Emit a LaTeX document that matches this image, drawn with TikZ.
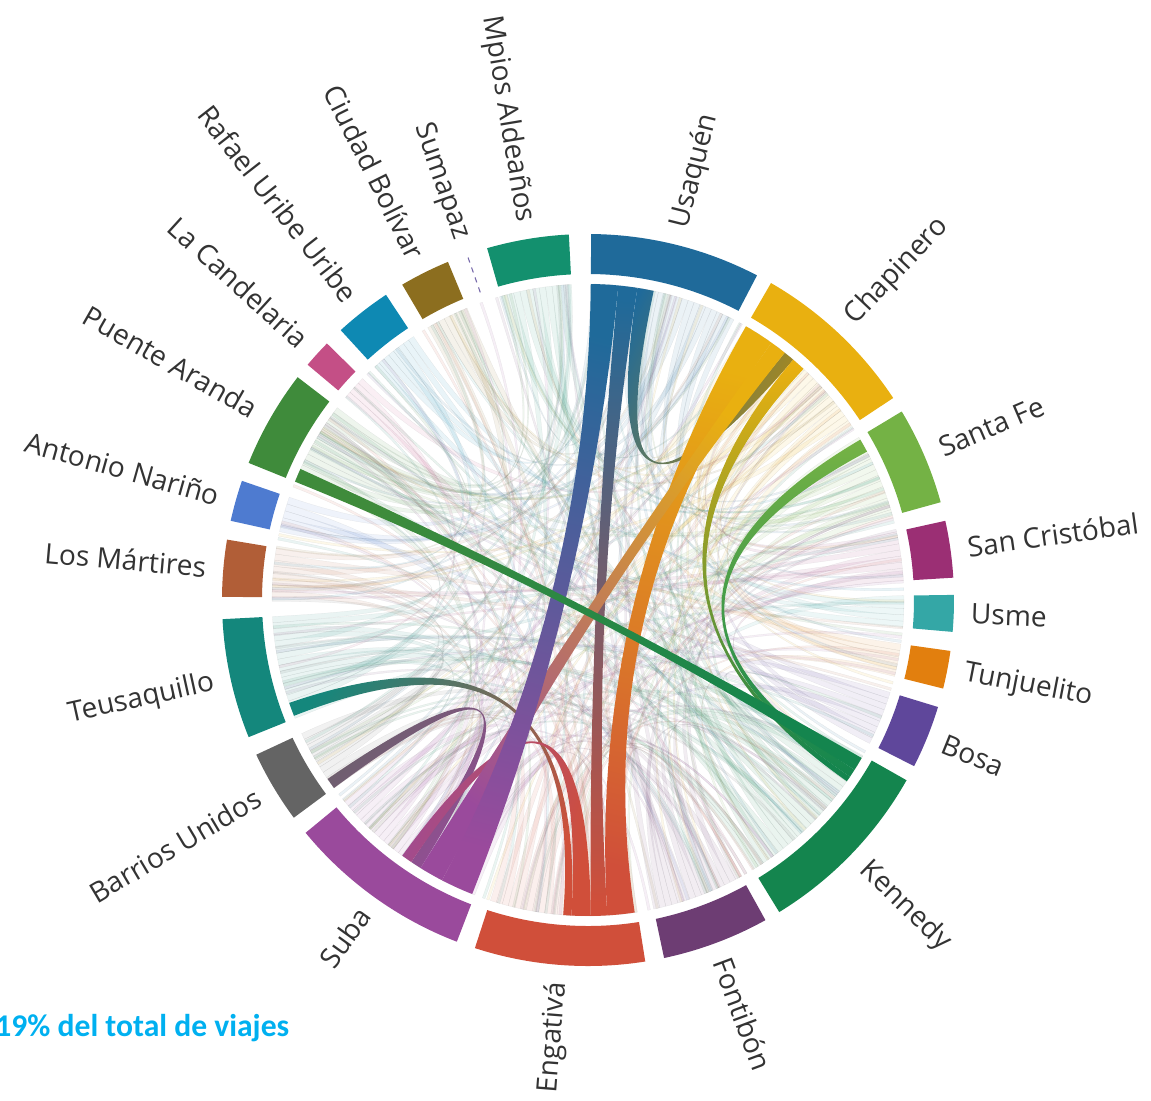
\documentclass[tikz,border=0pt]{standalone}
\usepackage{fontspec}
\setmainfont{Open Sans}
\newfontfamily\notefont{Carlito}
\definecolor{usaquen}{HTML}{1F6A9A}
\definecolor{chapinero}{HTML}{E9B010}
\definecolor{santafe}{HTML}{74B245}
\definecolor{sancristobal}{HTML}{9B2F74}
\definecolor{usme}{HTML}{34A7A6}
\definecolor{tunjuelito}{HTML}{E27F0E}
\definecolor{bosa}{HTML}{5F479B}
\definecolor{kennedy}{HTML}{14854E}
\definecolor{fontibon}{HTML}{6D3D73}
\definecolor{engativa}{HTML}{D04F3A}
\definecolor{suba}{HTML}{9A4A9C}
\definecolor{barrios}{HTML}{646464}
\definecolor{teusaquillo}{HTML}{14877C}
\definecolor{martires}{HTML}{B15E37}
\definecolor{antonio}{HTML}{4E7BD0}
\definecolor{puente}{HTML}{3F8B3B}
\definecolor{candelaria}{HTML}{C44F86}
\definecolor{rafael}{HTML}{0E89B3}
\definecolor{bolivar}{HTML}{8C6E1F}
\definecolor{sumapaz}{HTML}{7466A8}
\definecolor{mpios}{HTML}{13906E}
\definecolor{labgray}{HTML}{333333}
\definecolor{notecyan}{HTML}{00B0F0}
\def\rc{316}
\newcommand{\chordpath}[4]{(#1:\rc) arc[start angle=#1,end angle=#2,radius=\rc] .. controls (#2:\rc/3) and (#3:\rc/3) .. (#3:\rc) arc[start angle=#3,end angle=#4,radius=\rc] .. controls (#4:\rc/3) and (#1:\rc/3) .. (#1:\rc) -- cycle}
\newcommand{\hichord}[6]{%
  \pgfmathsetmacro\ux{cos((#1+#2)/2)-cos((#3+#4)/2)}%
  \pgfmathsetmacro\uy{sin((#1+#2)/2)-sin((#3+#4)/2)}%
  \pgfmathsetmacro\shang{atan2(-\ux,\uy)}%
  \shade[top color=#5,bottom color=#6,shading angle=\shang] \chordpath{#1}{#2}{#3}{#4};}
\def\zonas{62.5/89.5/usaquen/Usaquén, 33.5/60/chapinero/Chapinero, 15.5/31/santafe/Santa Fe,
  3.5/12.5/sancristobal/San Cristóbal, -5/0.8/usme/Usme, -14/-8/tunjuelito/Tunjuelito,
  -27/-17/bosa/Bosa, -58.5/-29.5/kennedy/Kennedy, -78/-61/fontibon/Fontibón,
  -108/-81/engativa/Engativá, -140.5/-111/suba/Suba, -155/-143.5/barrios/Barrios Unidos,
  -177/-158/teusaquillo/Teusaquillo, 170.5/179.5/martires/Los Mártires,
  161/167.5/antonio/Antonio Nariño, 142.5/158/puente/Puente Aranda,
  135.5/140/candelaria/La Candelaria, 123.5/132.5/rafael/Rafael Uribe Uribe,
  112.5/120.5/bolivar/Ciudad Bolívar, 93/106/mpios/Mpios Aldeaños}

\begin{document}
\begin{tikzpicture}[x=0.02cm,y=0.02cm,
  lab/.style={font=\fontsize{16}{19}\selectfont,text=labgray,inner sep=0pt},
  faint/.style={line width=0.15pt,fill opacity=0.09}]
\useasboundingbox (-588,-500) rectangle (563,600);
\pgfmathsetseed{21}
\foreach \a/\b/\c/\t in \zonas{
  \pgfmathtruncatemacro\n{(\b-\a)/1.1}
  \pgfmathsetmacro\w{(\b-\a)/\n}
  \foreach \k in {1,...,\n}{
    \pgfmathsetmacro\sa{\a+(\k-1)*\w}
    \pgfmathsetmacro\sb{\sa+\w}
    \pgfmathsetmacro\ta{\b+6+rnd*(345-(\b-\a))}
    \pgfmathsetmacro\tb{\ta+0.5}
    \filldraw[faint,fill=\c,draw=gray,draw opacity=0.16] \chordpath{\sa}{\sb}{\ta}{\tb};
  }
}
\hichord{78}{81}{49.5}{51.5}{usaquen}{chapinero!80!black}
\hichord{28}{30.5}{-34}{-32.5}{santafe}{kennedy}
\hichord{47}{49.5}{-35}{-34}{chapinero}{kennedy}
\hichord{-161}{-158.5}{-94.5}{-93}{teusaquillo}{engativa}
\hichord{-145.5}{-143.5}{-124}{-122}{barrios}{suba}
\hichord{-126}{-124}{-93}{-89.5}{suba}{engativa}
\hichord{81}{84.5}{-89.5}{-86.5}{usaquen}{engativa}
\hichord{54.5}{60}{-86.5}{-81.5}{chapinero}{engativa}
\hichord{51.5}{54.5}{-122}{-117.5}{chapinero}{suba}
\hichord{84.5}{89.5}{-117.5}{-111.5}{usaquen}{suba}
\hichord{155.5}{158}{-32.5}{-30}{puente}{kennedy}
\foreach \a/\b/\c/\t [count=\i] in \zonas{
  \fill[\c] (\a:326) arc[start angle=\a,end angle=\b,radius=326] -- (\b:366) arc[start angle=\b,end angle=\a,radius=366] -- cycle;
  \pgfmathsetmacro\m{(\a+\b)/2}
  \pgfmathtruncatemacro\izq{cos(\m)<0}
  \ifnum\izq=1
    \pgfmathsetmacro\r{\m+180}
    \node[lab,anchor=east,rotate=\r] (l\i) at (\m:383) {\t};
  \else
    \node[lab,anchor=west,rotate=\m] (l\i) at (\m:383) {\t};
  \fi
}
\draw[sumapaz,dashed,line width=0.6pt] (109.3:326) -- (109.3:366);
\node[lab,anchor=east,rotate=289.3] (sumapaz) at (109.3:383) {Sumapaz};
\node[anchor=west,inner sep=0pt,text=notecyan,font=\notefont\bfseries\fontsize{18}{21}\selectfont] (nota) at (-593,-428) {19\% del total de viajes};
\end{tikzpicture}
\end{document}
